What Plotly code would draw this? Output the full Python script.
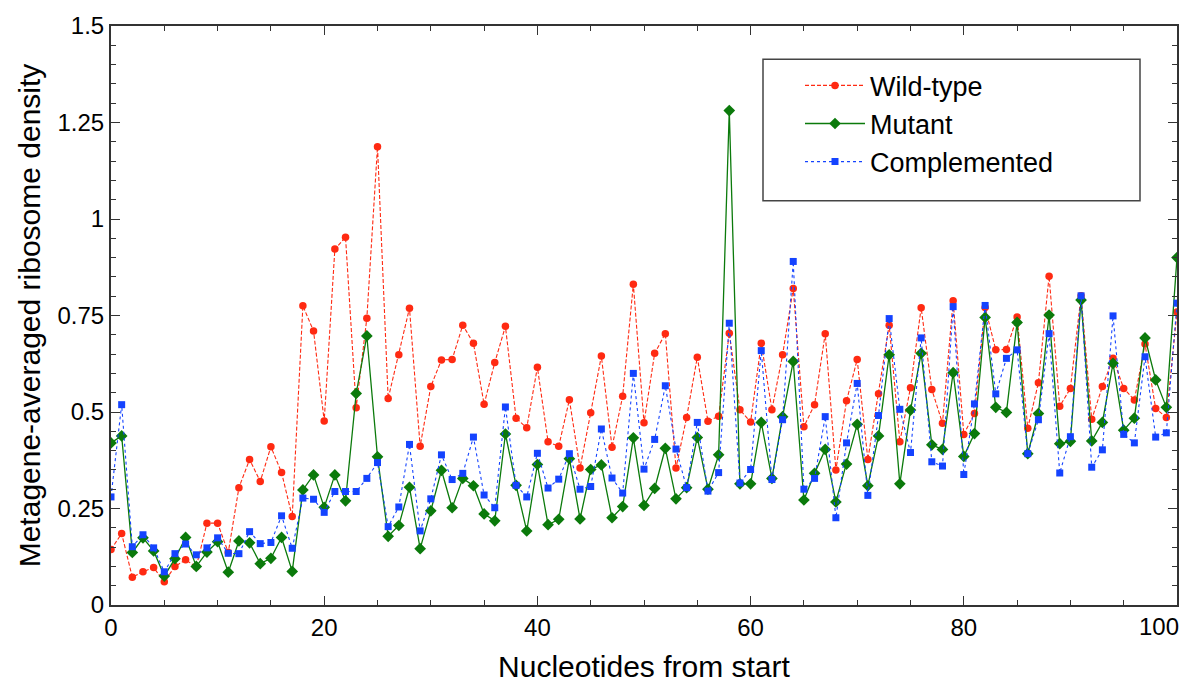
import plotly.graph_objects as go

# Position along the transcript (nucleotides from start codon)
positions = list(range(0, 101))

wild_type = [
    0.144, 0.185, 0.072, 0.086, 0.097, 0.060, 0.100, 0.117, 0.099, 0.212,
    0.212, 0.136, 0.304, 0.377, 0.320, 0.410, 0.343, 0.229, 0.775, 0.710,
    0.477, 0.922, 0.953, 0.511, 0.743, 1.187, 0.535, 0.648, 0.769, 0.411,
    0.566, 0.635, 0.636, 0.725, 0.678, 0.520, 0.628, 0.722, 0.484, 0.459,
    0.616, 0.423, 0.411, 0.532, 0.355, 0.498, 0.645, 0.409, 0.541, 0.831,
    0.472, 0.652, 0.703, 0.355, 0.486, 0.642, 0.476, 0.489, 0.704, 0.506,
    0.474, 0.678, 0.506, 0.648, 0.820, 0.462, 0.519, 0.703, 0.350, 0.529,
    0.636, 0.377, 0.547, 0.725, 0.423, 0.563, 0.770, 0.558, 0.471, 0.788,
    0.442, 0.496, 0.771, 0.661, 0.662, 0.746, 0.458, 0.576, 0.852, 0.515,
    0.561, 0.801, 0.481, 0.566, 0.639, 0.561, 0.531, 0.676, 0.509, 0.486,
    0.759,
]

mutant = [
    0.420, 0.438, 0.136, 0.174, 0.140, 0.075, 0.120, 0.175, 0.100, 0.137,
    0.164, 0.085, 0.166, 0.161, 0.107, 0.121, 0.175, 0.087, 0.298, 0.337,
    0.253, 0.337, 0.270, 0.548, 0.697, 0.384, 0.178, 0.206, 0.305, 0.146,
    0.244, 0.349, 0.252, 0.328, 0.309, 0.236, 0.218, 0.443, 0.310, 0.192,
    0.364, 0.208, 0.222, 0.379, 0.223, 0.351, 0.363, 0.226, 0.255, 0.433,
    0.258, 0.302, 0.406, 0.275, 0.304, 0.434, 0.300, 0.389, 1.281, 0.314,
    0.314, 0.473, 0.328, 0.488, 0.631, 0.272, 0.341, 0.403, 0.267, 0.365,
    0.468, 0.309, 0.438, 0.648, 0.314, 0.505, 0.652, 0.415, 0.403, 0.602,
    0.385, 0.444, 0.745, 0.512, 0.499, 0.732, 0.392, 0.496, 0.751, 0.418,
    0.424, 0.790, 0.425, 0.473, 0.626, 0.453, 0.484, 0.692, 0.583, 0.512,
    0.900,
]

complemented = [
    0.280, 0.519, 0.151, 0.182, 0.148, 0.086, 0.133, 0.158, 0.130, 0.148,
    0.174, 0.134, 0.133, 0.190, 0.159, 0.162, 0.231, 0.147, 0.277, 0.274,
    0.240, 0.294, 0.294, 0.294, 0.328, 0.369, 0.203, 0.254, 0.416, 0.192,
    0.275, 0.389, 0.325, 0.341, 0.435, 0.285, 0.252, 0.513, 0.310, 0.280,
    0.393, 0.303, 0.326, 0.392, 0.300, 0.307, 0.456, 0.329, 0.290, 0.600,
    0.352, 0.429, 0.568, 0.404, 0.304, 0.473, 0.295, 0.343, 0.730, 0.316,
    0.351, 0.659, 0.325, 0.480, 0.890, 0.300, 0.328, 0.488, 0.226, 0.420,
    0.574, 0.284, 0.491, 0.742, 0.507, 0.395, 0.692, 0.371, 0.360, 0.773,
    0.338, 0.521, 0.776, 0.547, 0.639, 0.661, 0.392, 0.480, 0.703, 0.342,
    0.436, 0.801, 0.357, 0.402, 0.749, 0.442, 0.420, 0.643, 0.435, 0.446,
    0.782,
]

y_tickvals = [0, 0.25, 0.5, 0.75, 1, 1.25, 1.5]
y_ticktext = ["0", "0.25", "0.5", "0.75", "1", "1.25", "1.5"]
x_tickvals = [0, 20, 40, 60, 80, 100]
x_ticktext = ["0", "20", "40", "60", "80", ""]  # last label placed inside the frame below

RED = "#ff2a12"
GREEN = "#0b7a0b"
BLUE = "#1443ff"
FONT = "Liberation Sans, Arial, sans-serif"
TICK_SIZE = 24

W, H = 1193, 691
ML, MR, MT, MB = 111, 16, 15, 86

fig = go.Figure()
fig.add_trace(go.Scatter(
    x=positions, y=wild_type, name="Wild-type", mode="lines+markers",
    line=dict(color=RED, width=1.1, dash="4px,2px"),
    marker=dict(symbol="circle", size=7.5, color=RED),
))
fig.add_trace(go.Scatter(
    x=positions, y=mutant, name="Mutant", mode="lines+markers",
    line=dict(color=GREEN, width=1.3),
    marker=dict(symbol="diamond", size=9, color=GREEN),
))
fig.add_trace(go.Scatter(
    x=positions, y=complemented, name="Complemented", mode="lines+markers",
    line=dict(color=BLUE, width=1.1, dash="dot"),
    marker=dict(symbol="square", size=7, color=BLUE),
))

# legend frame (pixel box converted to paper coordinates)
pw, ph = W - ML - MR, H - MT - MB
def px_x(p):
    return (p - ML) / pw
def px_y(p):
    return (H - MB - p) / ph

fig.add_shape(type="rect", xref="paper", yref="paper",
              x0=px_x(763), x1=px_x(1140), y0=px_y(193), y1=px_y(49),
              line=dict(color="#444444", width=1.5), fillcolor="white",
              layer="above")

# right-most x tick label, right-aligned so it stays on the page
fig.add_annotation(x=100, y=0, xref="x", yref="y", text="100",
                   showarrow=False, xanchor="right", yanchor="top",
                   xshift=4, yshift=-6,
                   font=dict(family=FONT, size=TICK_SIZE, color="black"))

axis_common = dict(
    showline=True, linecolor="#333333", linewidth=2, mirror="ticks",
    ticks="inside", tickcolor="#333333", tickwidth=1.2, ticklen=9,
    showgrid=False, zeroline=False,
    tickfont=dict(family=FONT, size=TICK_SIZE, color="black"),
)

fig.update_layout(
    width=W, height=H,
    margin=dict(l=ML, r=MR, t=MT, b=MB),
    paper_bgcolor="white", plot_bgcolor="white",
    font=dict(family=FONT, color="black"),
    showlegend=True,
    legend=dict(
        x=px_x(800), y=px_y(51), xanchor="left", yanchor="top",
        bgcolor="rgba(0,0,0,0)", borderwidth=0,
        font=dict(family=FONT, size=27, color="black"),
        itemwidth=60, tracegroupgap=0,
    ),
    xaxis=dict(
        range=[0, 100], tickvals=x_tickvals, ticktext=x_ticktext,
        minor=dict(dtick=5, ticks="inside", ticklen=5, tickcolor="#333333", showgrid=False),
        title=dict(text="Nucleotides from start", standoff=16,
                   font=dict(family=FONT, size=30, color="black")),
        **axis_common,
    ),
    yaxis=dict(
        range=[0, 1.5], tickvals=y_tickvals, ticktext=y_ticktext,
        minor=dict(dtick=0.05, ticks="inside", ticklen=5, tickcolor="#333333", showgrid=False),
        title=dict(text="Metagene-averaged ribosome density", standoff=8,
                   font=dict(family=FONT, size=30, color="black")),
        **axis_common,
    ),
)

fig.write_html("out.html")
